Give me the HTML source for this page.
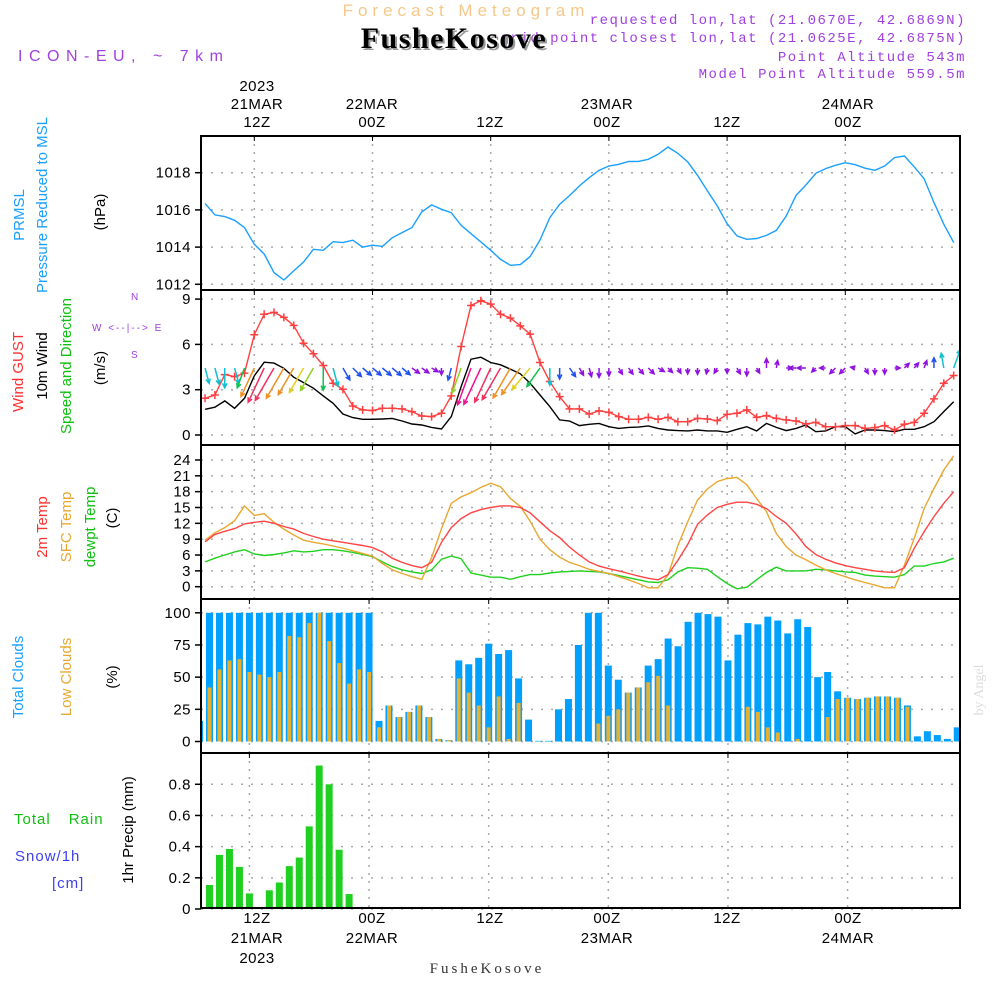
<!DOCTYPE html>
<html><head><meta charset="utf-8"><style>
html,body{margin:0;padding:0;background:#fff;}
svg{display:block;font-family:"Liberation Sans",sans-serif;}
</style></head><body>
<svg id="chart" width="1000" height="1000" viewBox="0 0 1000 1000" xmlns="http://www.w3.org/2000/svg">
<defs><clipPath id="plotclip"><rect x="201" y="130" width="759" height="785"/></clipPath></defs>
<g>
<text x="466" y="16" font-size="17" fill="#f5c88a" text-anchor="middle" letter-spacing="5">Forecast Meteogram</text>
<text x="966" y="24" font-size="14" fill="#a040e0" text-anchor="end" letter-spacing="1.5" font-family="Liberation Mono,monospace">requested lon,lat (21.0670E, 42.6869N)</text>
<text x="966" y="42" font-size="14" fill="#a040e0" text-anchor="end" letter-spacing="1.5" font-family="Liberation Mono,monospace">grid point closest lon,lat (21.0625E, 42.6875N)</text>
<text x="456" y="50" font-size="30" font-weight="bold" fill="#999" text-anchor="middle" letter-spacing="1.5" font-family="Liberation Serif,serif">FusheKosove</text>
<text x="454" y="48" font-size="30" font-weight="bold" fill="#000" text-anchor="middle" letter-spacing="1.5" font-family="Liberation Serif,serif">FusheKosove</text>
<text x="18" y="61" font-size="16" fill="#a040e0" letter-spacing="6.5">ICON-EU, ~ 7km</text>
<text x="966" y="61" font-size="14" fill="#a040e0" text-anchor="end" letter-spacing="1.5" font-family="Liberation Mono,monospace">Point Altitude 543m</text>
<text x="966" y="78" font-size="14" fill="#a040e0" text-anchor="end" letter-spacing="1.5" font-family="Liberation Mono,monospace">Model Point Altitude 559.5m</text>
</g>
<g id="ylabels" font-size="15">
<text transform="translate(24,215) rotate(-90)" fill="#1aa0ff" text-anchor="middle">PRMSL</text>
<text transform="translate(47,205) rotate(-90)" fill="#1aa0ff" text-anchor="middle">Pressure Reduced to MSL</text>
<text transform="translate(105,212) rotate(-90)" fill="#000" text-anchor="middle">(hPa)</text>
<text transform="translate(23,372) rotate(-90)" fill="#ff3030" text-anchor="middle">Wind GUST</text>
<text transform="translate(47,366) rotate(-90)" fill="#000" text-anchor="middle">10m Wind</text>
<text transform="translate(71,366) rotate(-90)" fill="#10c010" text-anchor="middle">Speed and Direction</text>
<text transform="translate(105,368) rotate(-90)" fill="#000" text-anchor="middle">(m/s)</text>
<text x="92" y="331" font-size="10" fill="#a040e0" letter-spacing="2">W  &lt;--|--&gt;  E</text>
<text x="131" y="300" font-size="10" fill="#a040e0">N</text>
<text x="131" y="358" font-size="10" fill="#a040e0">S</text>
<text transform="translate(23,677) rotate(-90)" fill="#1aa0ff" text-anchor="middle">Total Clouds</text>
<text transform="translate(47,527) rotate(-90)" fill="#ff3030" text-anchor="middle">2m Temp</text>
<text transform="translate(71,527) rotate(-90)" fill="#e8a830" text-anchor="middle">SFC Temp</text>
<text transform="translate(95,527) rotate(-90)" fill="#10c010" text-anchor="middle">dewpt Temp</text>
<text transform="translate(117,518) rotate(-90)" fill="#000" text-anchor="middle">(C)</text>
<text transform="translate(71,677) rotate(-90)" fill="#e8a830" text-anchor="middle">Low Clouds</text>
<text transform="translate(117,677) rotate(-90)" fill="#000" text-anchor="middle">(%)</text>
<text x="14" y="824" fill="#10c010" letter-spacing="1">Total<tspan dx="18">Rain</tspan></text>
<text x="15" y="861" fill="#4040f0" letter-spacing="1">Snow/1h</text>
<text x="52" y="888" fill="#4040f0" letter-spacing="1">[cm]</text>
<text transform="translate(133,830) rotate(-90)" fill="#000" text-anchor="middle">1hr Precip (mm)</text>
<text transform="translate(983,690) rotate(-90)" font-size="14" fill="#ddd" text-anchor="middle" font-family="Liberation Serif,serif">by Angel</text>
<text x="487" y="973" font-size="15" fill="#333" text-anchor="middle" font-family="Liberation Serif,serif" letter-spacing="3">FusheKosove</text>
</g>
<g id="plots"></g>
</svg>
<script>
const hours = [];
for (let h = -5; h <= 71; h++) hours.push(h);
const pressure = [1016.35,1015.73,1015.64,1015.44,1015.05,1014.15,1013.63,1012.63,1012.23,1012.72,
1013.2,1013.88,1013.83,1014.29,1014.24,1014.37,1014.0,1014.1,1014.04,1014.5,
1014.78,1015.05,1015.89,1016.27,1016.03,1015.85,1015.17,1014.72,1014.28,1013.83,
1013.34,1013.02,1013.06,1013.49,1014.38,1015.58,1016.3,1016.77,1017.29,1017.73,
1018.13,1018.36,1018.45,1018.6,1018.61,1018.72,1018.99,1019.38,1019.04,1018.58,
1017.86,1017.02,1016.21,1015.26,1014.6,1014.42,1014.46,1014.63,1014.9,1015.67,
1016.78,1017.34,1017.97,1018.22,1018.4,1018.54,1018.43,1018.24,1018.13,1018.36,
1018.81,1018.9,1018.31,1017.68,1016.39,1015.23,1014.24];
const gust = [2.43,2.65,4.0,3.87,4.1,6.64,8.0,8.12,7.79,7.26,
6.08,5.38,4.6,3.43,3.03,1.92,1.66,1.62,1.77,1.77,
1.73,1.55,1.26,1.22,1.44,2.59,5.86,8.58,8.89,8.67,
8.0,7.74,7.23,6.68,4.8,3.54,2.54,1.73,1.73,1.39,
1.6,1.5,1.22,1.04,1.04,1.17,1.04,1.17,0.88,0.88,
1.1,1.06,0.95,1.37,1.44,1.66,1.17,1.28,1.1,1.0,
0.93,0.73,0.84,0.55,0.55,0.62,0.62,0.44,0.49,0.62,
0.33,0.71,0.84,1.44,2.39,3.43,3.94];
const wind = [1.7,1.84,2.26,1.77,2.43,3.92,4.82,4.76,4.42,3.83,
3.47,3.1,2.59,2.1,1.39,1.15,1.04,1.04,1.06,1.1,
0.93,0.73,0.66,0.5,0.4,1.22,3.2,5.02,5.15,4.8,
4.65,4.36,4.05,3.43,2.65,1.88,1.0,0.93,0.62,0.71,
0.77,0.55,0.44,0.5,0.52,0.6,0.44,0.33,0.29,0.27,
0.33,0.27,0.27,0.18,0.38,0.55,0.27,0.77,0.5,0.29,
0.44,0.66,0.22,0.27,0.55,0.55,0.07,0.33,0.33,0.29,
0.22,0.38,0.38,0.55,0.88,1.55,2.2];
const windDir = [165,165,180,165,200,205,205,210,210,210,
210,210,180,165,150,135,130,130,130,130,
130,125,125,120,180,195,200,200,205,205,
210,210,215,220,215,180,180,145,150,165,
180,180,150,145,140,135,120,135,150,180,
180,190,210,180,150,180,150,0,10,90,
270,270,225,270,225,225,280,150,180,180,
90,45,40,20,0,350,20];
const temp2m = [8.5,9.9,10.5,11.0,11.9,12.2,12.4,12.0,11.4,10.9,
10.1,9.5,9.0,8.7,8.4,8.1,7.8,7.4,6.6,5.4,
4.6,4.0,3.6,4.6,8.4,11.2,12.9,14.0,14.6,15.0,
15.3,15.3,15.0,14.0,12.3,10.6,9.3,7.5,6.0,4.7,
3.9,3.4,3.0,2.5,2.0,1.6,1.3,2.3,5.0,8.0,
11.8,13.6,15.0,15.6,16.0,16.0,15.6,14.8,13.3,12.0,
10.0,7.6,6.1,5.2,4.5,4.0,3.6,3.3,3.0,2.8,
2.7,3.6,7.3,10.4,13.3,15.8,18.0];
const sfcTemp = [8.8,10.2,11.2,12.5,15.3,13.5,13.8,12.2,10.9,9.8,
8.8,8.4,8.1,7.7,7.3,6.8,6.3,5.8,4.4,3.2,
2.5,1.9,1.4,5.5,11.0,15.8,17.0,17.8,18.8,19.6,
18.9,16.7,15.2,12.4,9.0,7.0,5.6,4.6,4.0,3.3,
2.9,2.5,1.9,1.3,0.6,-0.2,-0.2,2.2,7.8,12.3,
16.4,18.5,19.9,20.5,20.7,19.3,16.7,14.2,10.1,7.6,
6.0,5.1,4.1,3.2,2.5,1.9,1.3,0.8,0.3,-0.2,
-0.2,4.1,9.2,14.8,18.6,22.1,24.8];
const dewpt = [4.7,5.4,6.0,6.6,7.0,6.2,5.9,6.1,6.4,6.8,
6.6,6.7,7.0,7.0,6.8,6.5,6.1,5.7,4.7,3.8,
3.2,2.8,2.5,3.2,5.2,5.8,5.3,2.6,2.2,1.8,
1.8,1.4,1.9,2.3,2.3,2.6,2.8,2.9,3.0,2.9,
2.8,2.5,2.1,1.7,1.3,0.9,0.8,1.3,2.8,3.6,
3.5,3.3,1.9,0.6,-0.4,-0.1,1.3,2.7,3.7,3.0,
3.0,3.0,3.3,3.2,3.0,2.8,2.7,2.2,2.0,1.9,
1.8,2.3,3.9,3.9,4.4,4.7,5.4];
const totalClouds = [16,100,100,100,100,100,100,100,100,100,
100,100,100,100,100,100,100,100,16,28,
19,23,28,19,2,1,63,60,65,76,
68,71,49,17,0.5,0.5,25,33,75,100,
100,59,48,38,42,59,64,80,74,93,
100,99,97,63,83,92,91,97,94,84,
95,89,50,54,39,34,33,34,35,35,
34,28,4,8,5,2,11];
const lowClouds = [16,42,56,63,64,54,52,50,54,82,
81,92,100,78,61,45,56,54,11,28,
19,23,28,19,2,1,49,38,28,11,
35,2,30,0,0,0,0,0,0,0,
14,20,25,38,42,46,51,28,0,0,
0,0,0,0,0,27,23,11,7,0,
2,0,0,19,33,34,33,34,35,35,
34,27,0,0,0,0,0];
const precip = [0,0.154,0.347,0.385,0.27,0.10,0.013,0.12,0.17,0.275,
0.33,0.53,0.92,0.80,0.38,0.096,0,0,0,0,
0,0,0,0,0,0,0,0,0,0,
0,0,0,0,0,0,0,0,0,0,
0,0,0,0,0,0,0,0,0,0,
0,0,0,0,0,0,0,0,0,0,
0,0,0,0,0,0,0,0,0,0,
0,0,0,0,0,0,0];
const pressTicks = [1012,1014,1016,1018];
const windTicks = [0,3,6,9];
const tempTicks = [0,3,6,9,12,15,18,21,24];
const cloudTicks = [0,25,50,75,100];
const precipTicks = [0,0.2,0.4,0.6,0.8];
const timeTicks = [0,12,24,36,48,60];
const topLabels = [["2023","21MAR","12Z"],["22MAR","00Z"],["12Z"],["23MAR","00Z"],["12Z"],["24MAR","00Z"]];
const bottomLabels = [["12Z","21MAR","2023"],["00Z","22MAR"],["12Z"],["00Z","23MAR"],["12Z"],["00Z","24MAR"]];
const labelX = [257,372,490,607,727,848];

const NS = "http://www.w3.org/2000/svg";
const plots = document.getElementById('plots');
const L = 201, R = 960;
const xl = h => 254.3 + 9.85 * h;
const xb = h => 249.4 + 9.97 * h;
function mk(tag, attrs, parent) {
  const e = document.createElementNS(NS, tag);
  for (const k in attrs) e.setAttribute(k, attrs[k]);
  (parent || plots).appendChild(e);
  return e;
}
const panels = [
  {name:'pressure', top:136, bot:290, y: v => 172.7 + (1018 - v) * 18.6, ticks: pressTicks},
  {name:'wind', top:290, bot:445, y: v => 435 - v * 15.1, ticks: windTicks},
  {name:'temperature', top:445, bot:599, y: v => 586.7 - v * 5.28, ticks: tempTicks},
  {name:'clouds', top:599, bot:753, y: v => 741.5 - v * 1.287, ticks: cloudTicks},
  {name:'precip', top:753, bot:908, y: v => 909 - v * 155.9, ticks: precipTicks}
];
panels.forEach((p, pi) => {
  const g = mk('g', {'clip-path':'url(#plotclip)'});
  
  
  p.g = g;
  const gx = pi >= 3 ? xb : xl;
  timeTicks.forEach(t => {
    const ln = mk('line', {x1: gx(t), x2: gx(t), y1: p.top, y2: p.bot, stroke:'#aaa', 'stroke-width':1.5, 'stroke-dasharray':'2,6'}, g);
    
    
    mk('line', {x1: gx(t), x2: gx(t), y1: p.top, y2: p.top + 5, stroke:'#000', 'stroke-width':1}, g);
  });
  p.ticks.forEach(t => {
    const y = p.y(t);
    const ln = mk('line', {x1: L, x2: R, y1: y, y2: y, stroke:'#aaa', 'stroke-width':1.5, 'stroke-dasharray':'2,8'}, g);
    
    
    mk('line', {x1: L - 6, x2: L, y1: y, y2: y, stroke:'#000', 'stroke-width':1.5});
    const tx = mk('text', {x: L - 10, y: y + 5, 'font-size': 15, 'text-anchor':'end', fill:'#000', 'letter-spacing':'0.5'});
    tx.textContent = String(t);
    
    
  });
});
function line(p, arr, color, name) {
  const pts = arr.map((v, i) => xl(hours[i]).toFixed(1) + ',' + p.y(v).toFixed(1)).join(' ');
  const pl = mk('polyline', {points: pts, fill:'none', stroke: color, 'stroke-width': 1.4}, p.g);
  
  
  return pl;
}
line(panels[0], pressure, '#1aa0ff', 'pressure-line');
const pw = panels[1];
line(pw, wind, '#000', 'wind-speed-line');
line(pw, gust, '#ff4040', 'gust-line');
gust.forEach((v, i) => {
  const x = xl(hours[i]), y = pw.y(v);
  const m = mk('path', {d:`M${x-4},${y}H${x+4}M${x},${y-4}V${y+4}`, stroke:'#ff4040', 'stroke-width':1.5}, pw.g);
  
  
});
function windColor(s) {
  if (s < 0.8) return '#9010e0';
  if (s < 1.5) return '#2050f0';
  if (s < 2.3) return '#10c0d0';
  if (s < 2.9) return '#10c050';
  if (s < 3.3) return '#90d020';
  if (s < 3.7) return '#e0d020';
  if (s < 4.6) return '#f09020';
  if (s < 4.9) return '#f03060';
  return '#f01090';
}
wind.forEach((s, i) => {
  const x0 = xl(hours[i]), y0 = 368;
  const len = 4 + 7 * s;
  const a = windDir[i] * Math.PI / 180;
  const dx = Math.sin(a), dy = -Math.cos(a);
  const x1 = x0 + dx * len, y1 = y0 + dy * len;
  const hl = 5, ha = 0.45;
  const b1x = x1 - hl * (dx * Math.cos(ha) - dy * Math.sin(ha));
  const b1y = y1 - hl * (dy * Math.cos(ha) + dx * Math.sin(ha));
  const b2x = x1 - hl * (dx * Math.cos(-ha) - dy * Math.sin(-ha));
  const b2y = y1 - hl * (dy * Math.cos(-ha) + dx * Math.sin(-ha));
  const ar = mk('path', {d:`M${x0},${y0}L${x1},${y1}M${b1x},${b1y}L${x1},${y1}L${b2x},${b2y}`, stroke: windColor(s), 'stroke-width':1.5, fill:'none'}, pw.g);
  
  
});
const pt = panels[2];
line(pt, dewpt, '#20d020', 'dewpoint-line');
line(pt, sfcTemp, '#e8a830', 'sfc-temp-line');
line(pt, temp2m, '#ff4444', 'temp2m-line');
const pc = panels[3];
totalClouds.forEach((v, i) => {
  const x = xb(hours[i]), y = pc.y(v);
  const b = mk('rect', {x: x - 3.5, y: y, width: 7, height: Math.max(0, pc.y(0) - y), fill:'#00a0ff'}, pc.g);
  
  
});
lowClouds.forEach((v, i) => {
  const x = xb(hours[i]), y = pc.y(v);
  const b = mk('rect', {x: x - 2, y: y, width: 4, height: Math.max(0, pc.y(0) - y), fill:'#e8b030'}, pc.g);
  
  
});
const pp = panels[4];
precip.forEach((v, i) => {
  if (v <= 0) return;
  const x = xb(hours[i]), y = pp.y(v);
  const b = mk('rect', {x: x - 3.5, y: y, width: 7, height: pp.y(0) - y, fill:'#20d020'}, pp.g);
  
  
});
panels.forEach(p => {
  const f = mk('rect', {x: L, y: p.top, width: R - L, height: p.bot - p.top, fill:'none', stroke:'#000', 'stroke-width':2});
  
  
});
labelX.forEach((x, i) => {
  const tl = topLabels[i];
  tl.forEach((s, j) => {
    const t = mk('text', {x: x, y: 122 - (tl.length - 1 - j) * 18 + 5, 'font-size': 15, 'text-anchor':'middle', fill:'#000', 'letter-spacing':'0.5'});
    t.textContent = s;
    
    
  });
  bottomLabels[i].forEach((s, j) => {
    const t = mk('text', {x: x, y: 923 + j * 20, 'font-size': 15, 'text-anchor':'middle', fill:'#000', 'letter-spacing':'0.5'});
    t.textContent = s;
    
    
  });
});
</script>
</body></html>
